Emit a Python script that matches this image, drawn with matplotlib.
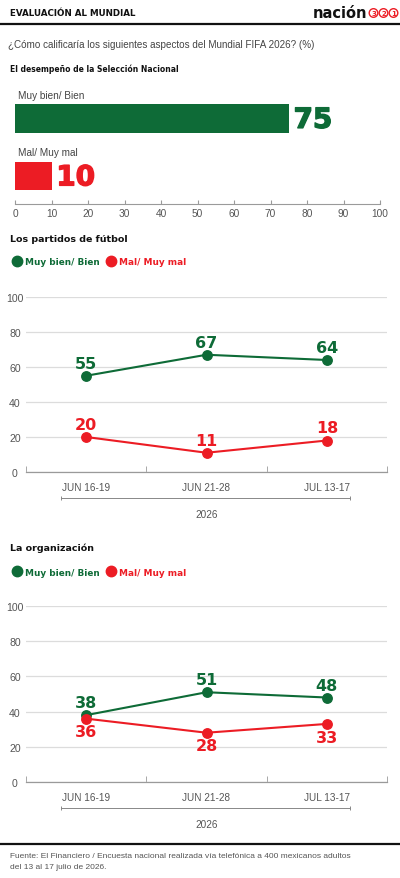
import matplotlib
matplotlib.use('Agg')
import matplotlib.pyplot as plt
import matplotlib.transforms as mtransforms
import matplotlib.patheffects as pe
from matplotlib.lines import Line2D
from matplotlib.patches import Circle
import numpy as np

plt.rcParams['font.family'] = ['Liberation Sans', 'DejaVu Sans']

GREEN = '#0e6b37'
RED = '#ec1c24'

# data
bar_labels = ['Muy bien/ Bien', 'Mal/ Muy mal']
bar_values = [75, 10]

periods = ['JUN 16-19', 'JUN 21-28', 'JUL 13-17']
year_label = '2026'
partidos_bien = [55, 67, 64]
partidos_mal = [20, 11, 18]
organizacion_bien = [38, 51, 48]
organizacion_mal = [36, 28, 33]

W, H = 400, 879
fig = plt.figure(figsize=(4, 8.79), dpi=100)


def fx(px):
    return px / W


def fy(py):
    return 1 - py / H


def axes_px(left, top, right, bottom):
    return fig.add_axes([fx(left), fy(bottom), (right - left) / W, (bottom - top) / H])


BOLD = dict(family='DejaVu Sans', fontweight='bold')

# header
fig.text(fx(10), fy(14), 'EVALUACIÓN AL MUNDIAL', fontsize=6.3, color='#111', va='center', **BOLD)
fig.text(fx(367), fy(13), 'nación', fontsize=10.5, color='#111', ha='right', va='center', **BOLD)
for i, d in enumerate(['3', '2', '1']):
    cx, cy = 373.5 + i * 10, 14
    fig.add_artist(Circle((cx / 100, (H - cy) / 100), 0.043, transform=fig.dpi_scale_trans,
                          facecolor='white', edgecolor=RED, lw=1.0))
    fig.text(fx(cx), fy(cy), d, fontsize=5, color=RED, ha='center', va='center', **BOLD)
fig.add_artist(Line2D([0, 1], [fy(25), fy(25)], color='#111', lw=1.6))

fig.text(fx(8), fy(45), '¿Cómo calificaría los siguientes aspectos del Mundial FIFA 2026? (%)',
         fontsize=7.1, color='#444', va='center')
fig.text(fx(10), fy(69), 'El desempeño de la Selección Nacional', fontsize=5.5, color='#111',
         va='center', **BOLD)

# bar chart
axb = axes_px(15, 90, 380, 205)
ypos = [1, 0]
axb.barh(ypos, bar_values, height=0.5, color=[GREEN, RED])
for y, v, lab, c in zip(ypos, bar_values, bar_labels, [GREEN, RED]):
    axb.annotate(str(v), (v, y), xytext=(3.5, -1), textcoords='offset points', va='center',
                 ha='left', fontsize=20, color=c,
                 path_effects=[pe.withStroke(linewidth=1.0, foreground=c)], **BOLD)
    axb.annotate(lab, (0, y + 0.25), xytext=(2, 3), textcoords='offset points', va='bottom',
                 ha='left', fontsize=7.2, color='#444')
axb.set_xlim(0, 100)
axb.set_ylim(-0.487, 1.513)
axb.set_xticks(range(0, 101, 10))
axb.set_yticks([])
for s in ['top', 'right', 'left']:
    axb.spines[s].set_visible(False)
axb.spines['bottom'].set_color('#9a9a9a')
axb.spines['bottom'].set_linewidth(0.8)
axb.tick_params(axis='x', direction='in', length=3, color='#9a9a9a', labelsize=7.3,
                labelcolor='#555', pad=3)


def line_panel(title, title_y, legend_y, top, bottom, bien, mal, mal_below):
    fig.text(fx(10), fy(title_y), title, fontsize=6.8, color='#111', va='center', **BOLD)
    ax = axes_px(26, top, 387, bottom)
    x = np.arange(len(periods))
    ax.plot(x, bien, color=GREEN, lw=1.5, marker='o', ms=6.8, clip_on=False, zorder=3,
            label='Muy bien/ Bien')
    ax.plot(x, mal, color=RED, lw=1.5, marker='o', ms=6.8, clip_on=False, zorder=3,
            label='Mal/ Muy mal')
    for xi, v in zip(x, bien):
        ax.annotate(str(v), (xi, v), xytext=(0, 9), textcoords='offset points', ha='center',
                    va='center', fontsize=11.5, color=GREEN, **BOLD)
    for xi, v in zip(x, mal):
        off = -9.5 if mal_below else 9
        ax.annotate(str(v), (xi, v), xytext=(0, off), textcoords='offset points', ha='center',
                    va='center', fontsize=11.5, color=RED, **BOLD)
    ax.set_xlim(-0.5, len(periods) - 0.5)
    ax.set_ylim(0, 100)
    ax.set_yticks(range(0, 101, 20))
    ax.yaxis.grid(True, color='#dcdcdc', lw=0.9)
    ax.set_axisbelow(True)
    for s in ['top', 'right', 'left']:
        ax.spines[s].set_visible(False)
    ax.spines['bottom'].set_color('#9a9a9a')
    ax.spines['bottom'].set_linewidth(0.9)
    ax.tick_params(axis='y', length=0, labelsize=7.6, labelcolor='#555', pad=8)
    for t in ax.get_yticklabels():
        t.set_ha('center')
    ax.set_xticks(x)
    ax.set_xticklabels(periods)
    ax.tick_params(axis='x', which='major', length=0, labelsize=7.2, labelcolor='#555', pad=7)
    ax.set_xticks(np.arange(-0.5, len(periods)), minor=True)
    ax.tick_params(axis='x', which='minor', direction='in', length=4, color='#9a9a9a')
    # year bracket
    h = bottom - top
    tr = mtransforms.blended_transform_factory(ax.transData, ax.transAxes)
    ax.plot([-0.21, 2.19], [-26 / h, -26 / h], color='#888', lw=0.7, transform=tr, clip_on=False)
    ax.plot([-0.21, 2.19], [-26 / h, -26 / h], ls='', marker='|', ms=3, mew=0.7, color='#888',
            transform=tr, clip_on=False)
    ax.text(1, -42 / h, year_label, transform=tr, ha='center', va='center', fontsize=7.2,
            color='#555')
    leg = ax.legend(loc='center left', bbox_to_anchor=(fx(14), fy(legend_y)),
                    bbox_transform=fig.transFigure, ncol=2, frameon=False, handlelength=0.6,
                    handletextpad=0.6, columnspacing=1.0, borderpad=0, borderaxespad=0,
                    prop=dict(family='DejaVu Sans', weight='bold', size=6.4))
    for hd in leg.legend_handles:
        hd.set_linestyle('')
        hd.set_markersize(7.5)
    for t, c in zip(leg.get_texts(), [GREEN, RED]):
        t.set_color(c)
    return ax


line_panel('Los partidos de fútbol', 239, 263, 298, 473, partidos_bien, partidos_mal, False)
line_panel('La organización', 548, 573, 607, 783, organizacion_bien, organizacion_mal, True)

# footer
fig.add_artist(Line2D([0, 1], [fy(845), fy(845)], color='#111', lw=1.6))
fig.text(fx(10), fy(857), 'Fuente: El Financiero / Encuesta nacional realizada vía telefónica a 400 '
         'mexicanos adultos', fontsize=6.0, color='#555', va='center')
fig.text(fx(10), fy(867.5), 'del 13 al 17 julio de 2026.', fontsize=6.0, color='#555', va='center')

fig.savefig('out.png', dpi=100)
